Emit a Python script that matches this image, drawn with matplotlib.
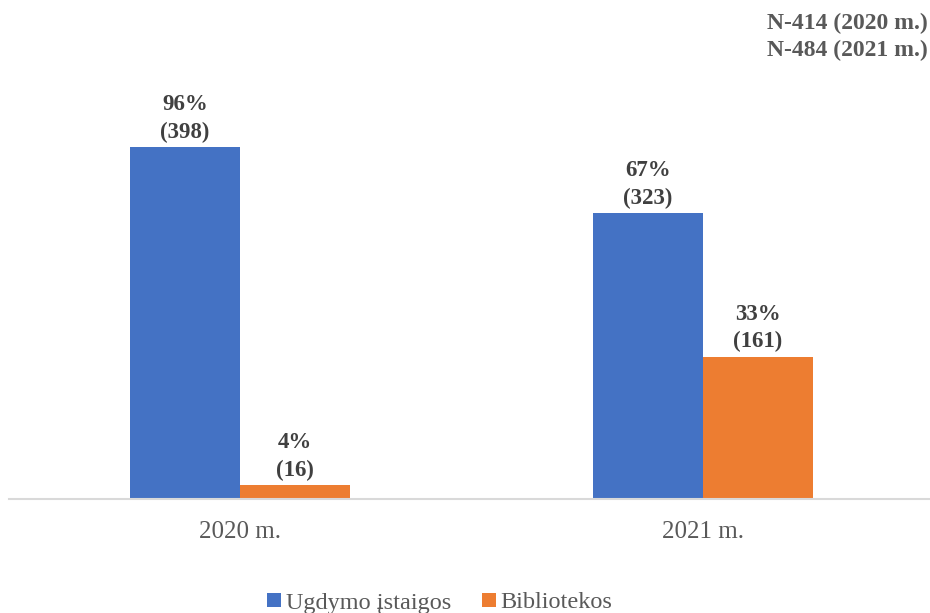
import matplotlib
matplotlib.use("Agg")
import matplotlib.pyplot as plt
import numpy as np

categories = ["2020 m.", "2021 m."]
series_names = ["Ugdymo įstaigos", "Bibliotekos"]
counts_ugdymo = [398, 323]
counts_bibl = [16, 161]
pct_ugdymo = [96, 67]
pct_bibl = [4, 33]
colors = ["#4472C4", "#ED7D31"]
note = "N-414 (2020 m.)\nN-484 (2021 m.)"

plt.rcParams['font.family'] = ['Liberation Serif', 'DejaVu Serif']

W, H = 930, 613
fig = plt.figure(figsize=(W/100, H/100), dpi=100)
x0px, x1px = 240, 703
unit = x1px - x0px
left_px = x0px - 0.5*unit
ax = fig.add_axes([left_px/W, (H-499)/H, 2*unit/W, 499/H])
ax.set_xlim(-0.5, 1.5)
ax.set_ylim(0, 564)

x = np.arange(len(categories))
bw = 110/unit
b1 = ax.bar(x - bw/2, counts_ugdymo, bw, color=colors[0], label=series_names[0])
b2 = ax.bar(x + bw/2, counts_bibl, bw, color=colors[1], label=series_names[1])

for bars, pcts, cnts in [(b1, pct_ugdymo, counts_ugdymo), (b2, pct_bibl, counts_bibl)]:
    for r, p, c in zip(bars, pcts, cnts):
        ax.annotate(f"{p}%\n({c})", (r.get_x()+r.get_width()/2, r.get_height()),
                    xytext=(0, 3), textcoords="offset points", ha="center", va="bottom",
                    fontsize=16.5, fontweight="bold", color="#404040", linespacing=1.4)

for s in ["top", "right", "left"]:
    ax.spines[s].set_visible(False)
ax.spines["bottom"].set_color("#D9D9D9")
ax.spines["bottom"].set_linewidth(1.5)
ax.set_yticks([])
ax.set_xticks(x)
ax.set_xticklabels(categories, fontsize=18, color="#595959")
ax.tick_params(axis="x", length=0, pad=16)

fig.text(928/W, 1-37/H, note, ha="right", va="center", fontsize=17, fontweight="bold",
         color="#595959", linespacing=1.35)

leg = fig.legend(handles=[b1, b2], labels=series_names, loc="center", bbox_to_anchor=(440/W, 1-603/H),
                 ncol=2, frameon=False, fontsize=17.5, handlelength=0.55, handleheight=0.55,
                 handletextpad=0.2, columnspacing=1.3)
for t in leg.get_texts():
    t.set_color("#595959")

fig.savefig("out.png", dpi=100)
